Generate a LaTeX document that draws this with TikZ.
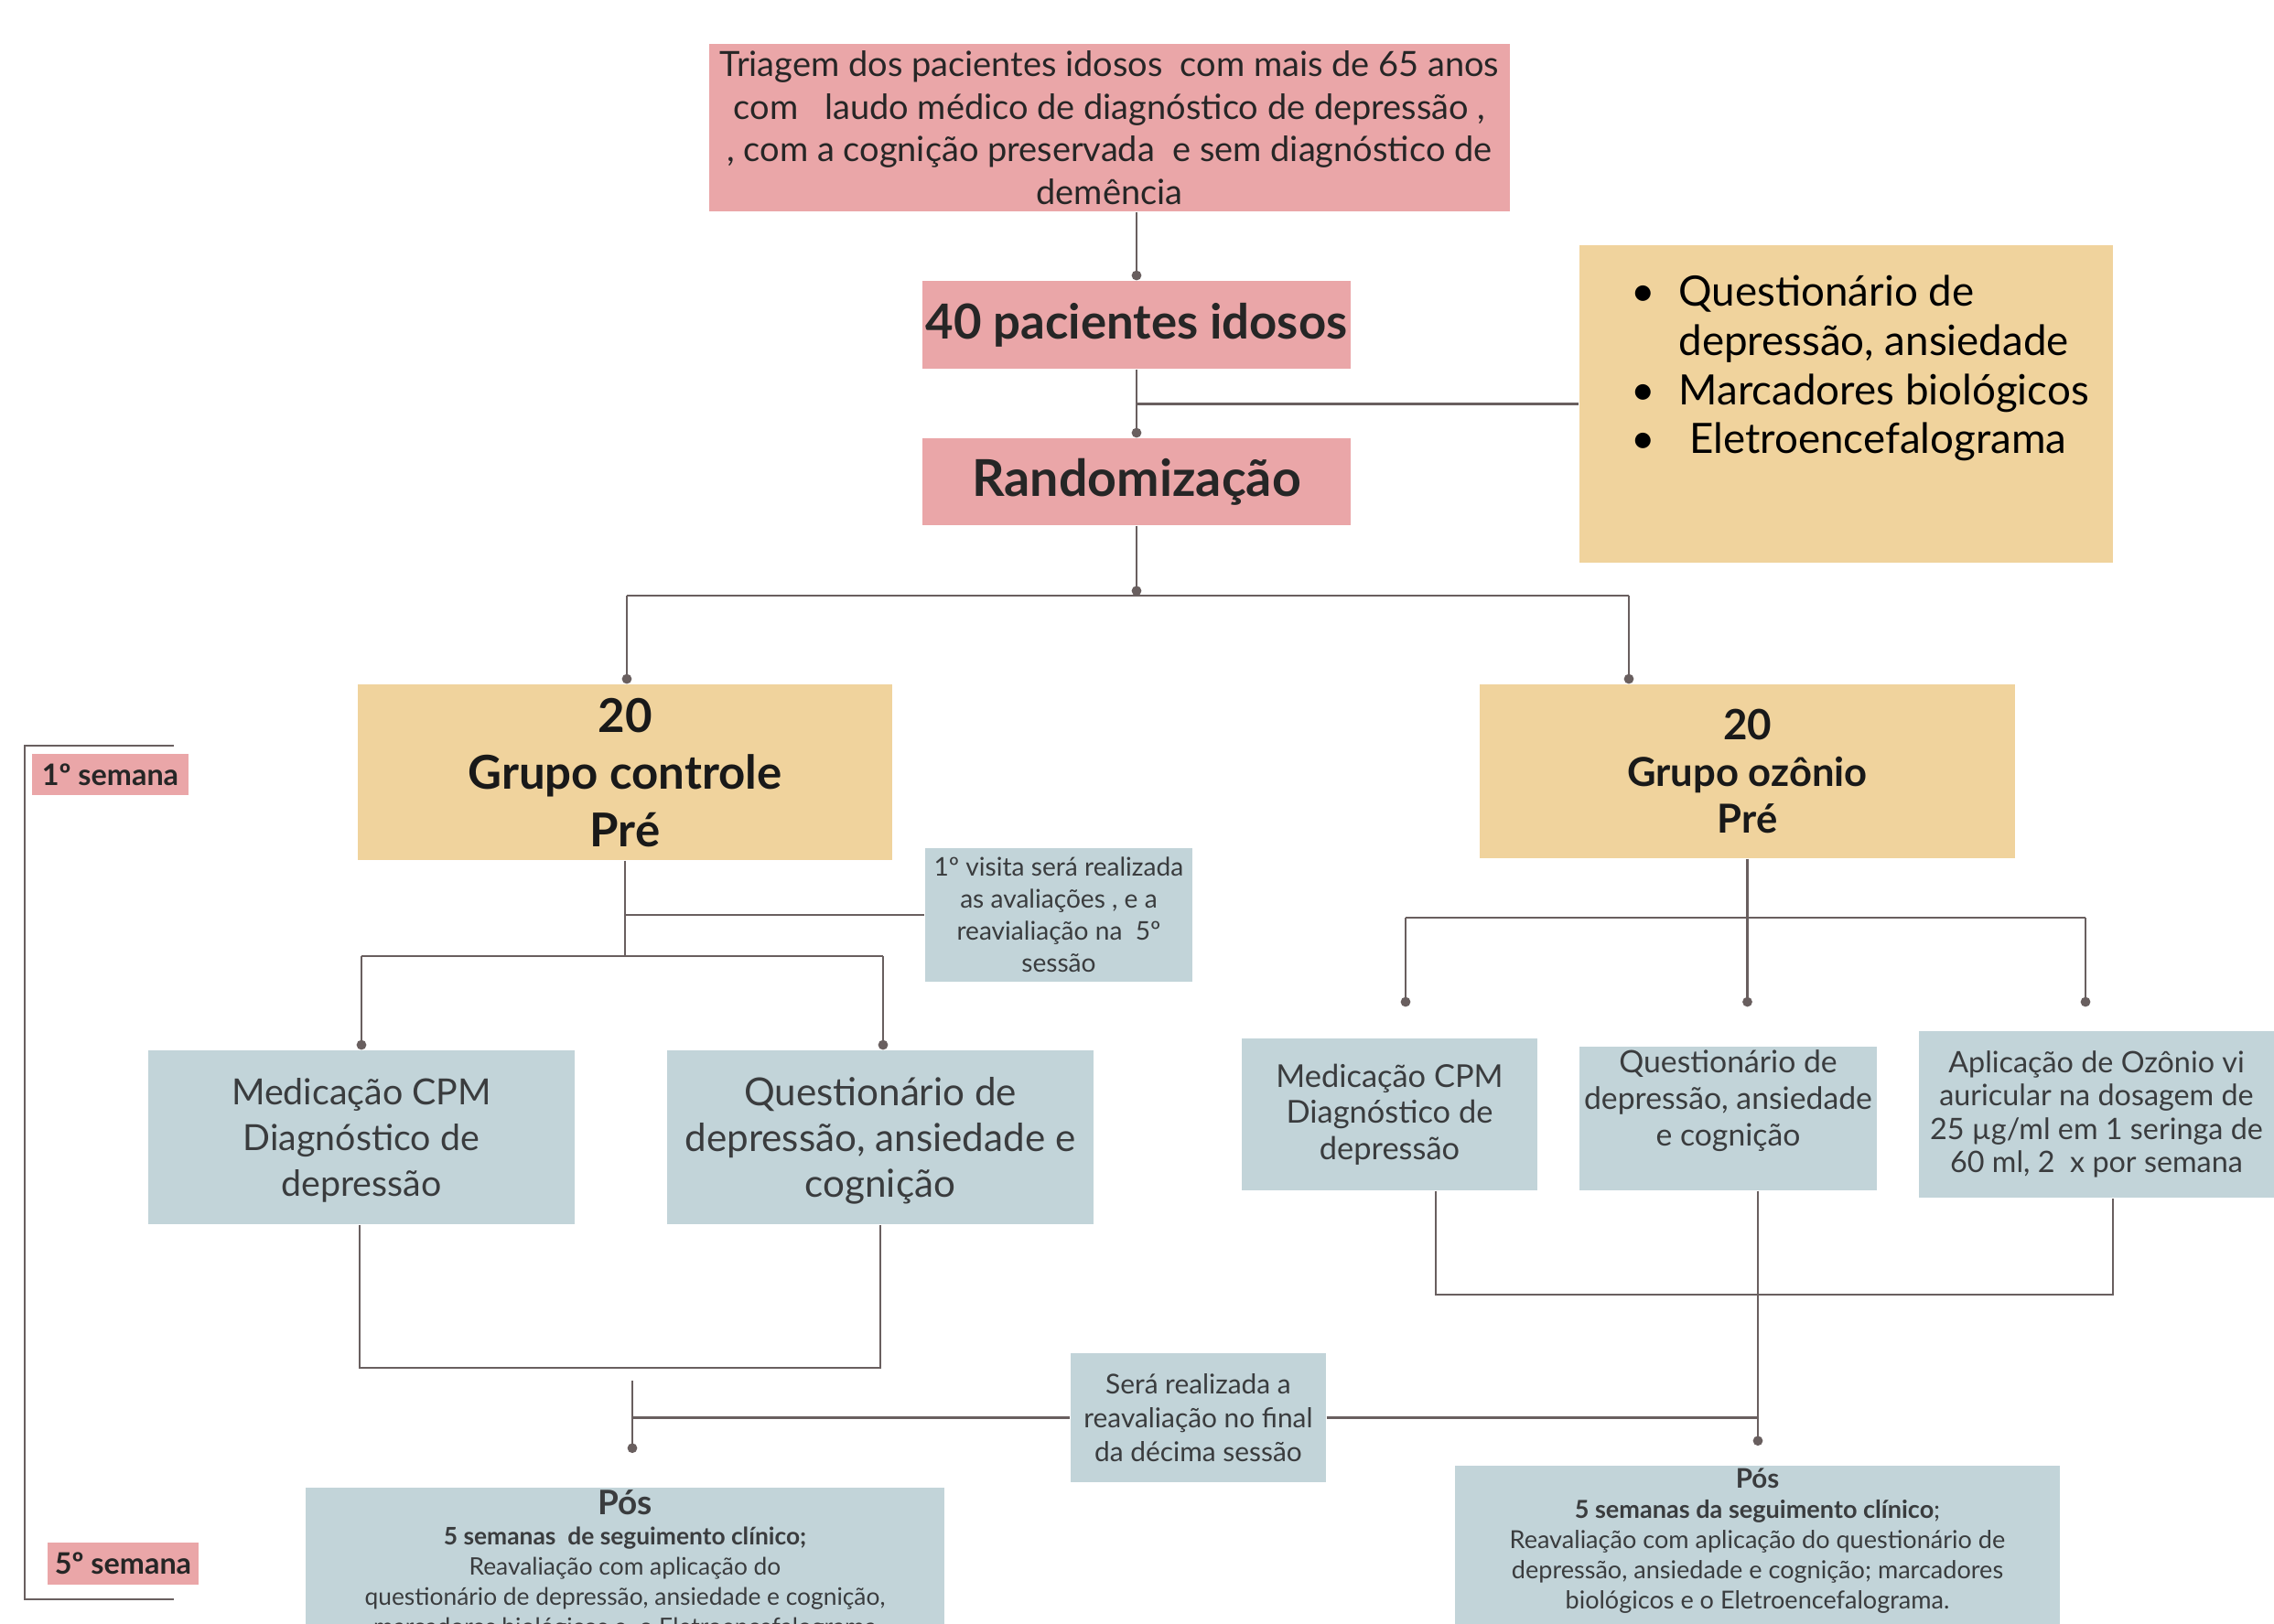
\documentclass[tikz,border=0pt]{standalone}
\usepackage{fontspec}
\setmainfont{Lato}
\usetikzlibrary{arrows.meta}
\definecolor{rosa}{RGB}{234,166,168}
\definecolor{areia}{RGB}{240,211,157}
\definecolor{cinzaazul}{RGB}{194,212,217}
\definecolor{linha}{RGB}{105,95,95}
\definecolor{texto}{RGB}{58,60,62}
\begin{document}
\begin{tikzpicture}[
  pinkbox/.style={fill=rosa, inner sep=0pt, align=center, text=black!85},
  yellowbox/.style={fill=areia, inner sep=0pt, align=center, text=black!90},
  bluebox/.style={fill=cinzaazul, inner sep=0pt, align=center, text=texto},
  line/.style={draw=linha, line width=0.8pt},
  dotline/.style={line, -{Circle[length=3pt]}},
]
\clip (0,0) rectangle (24.85,-17.74);

% triagem e randomizacao
\node[pinkbox, minimum width=8.75cm, minimum height=1.83cm, text depth=-1.3mm, font=\fontsize{10.8}{13.2}\selectfont] (triagem) at (12.125,-1.395)
  {Triagem dos pacientes idosos\ \ com mais de 65 anos\\com \ \ laudo médico de diagnóstico de depressão ,\\, com a cognição preservada\ \ e sem diagnóstico de\\demência};
\node[pinkbox, minimum width=4.68cm, minimum height=0.96cm, font=\bfseries\fontsize{15}{17}\selectfont] (pac) at (12.42,-3.55) {40 pacientes idosos};
\node[pinkbox, minimum width=4.68cm, minimum height=0.95cm, font=\bfseries\fontsize{15.8}{17}\selectfont] (rand) at (12.42,-5.265) {Randomização};
\node[yellowbox, minimum width=5.83cm, minimum height=3.47cm] (aval) at (20.175,-4.415) {};
\node[anchor=north west, align=left, inner sep=0pt, font=\fontsize{13}{15.3}\selectfont] (lista) at ([xshift=5.6mm, yshift=-2.9mm]aval.north west)
  {\begin{tabular}{@{}l@{\hspace{2.6mm}}l@{}}
   \textbullet & Questionário de\\
               & depressão, ansiedade\\
   \textbullet & Marcadores biológicos\\
   \textbullet & \ Eletroencefalograma
   \end{tabular}};

% grupos
\node[yellowbox, minimum width=5.84cm, minimum height=1.92cm, text depth=-1.6mm, font=\bfseries\fontsize{14.5}{17.8}\selectfont] (ctrl) at (6.83,-8.44) {20\\Grupo controle\\Pré};
\node[yellowbox, minimum width=5.85cm, minimum height=1.90cm, font=\bfseries\fontsize{12.4}{14.5}\selectfont] (ozo) at (19.095,-8.43) {{\fontsize{13}{14.5}\selectfont 20}\\Grupo ozônio\\Pré};
\node[bluebox, minimum width=2.92cm, minimum height=1.46cm, font=\fontsize{8}{10}\selectfont] (visita) at (11.57,-10.0)
  {1º visita será realizada\\as avaliações , e a\\reavialiação na\ \ 5º\\sessão};

\node[bluebox, minimum width=4.66cm, minimum height=1.90cm, text depth=-1.1mm, font=\fontsize{11.2}{14.2}\selectfont] (medC) at (3.95,-12.43) {Medicação CPM\\Diagnóstico de\\depressão};
\node[bluebox, minimum width=4.66cm, minimum height=1.90cm, text depth=-1.1mm, font=\fontsize{12}{14.2}\selectfont] (questC) at (9.62,-12.43) {Questionário de\\depressão, ansiedade e\\cognição};
\node[bluebox, minimum width=3.23cm, minimum height=1.66cm, font=\fontsize{9.8}{11.3}\selectfont] (medO) at (15.185,-12.18) {Medicação CPM\\Diagnóstico de\\depressão};
\node[bluebox, minimum width=3.25cm, minimum height=1.57cm, text depth=4.5mm, font=\fontsize{9.6}{11.3}\selectfont] (questO) at (18.885,-12.225) {Questionário de\\depressão, ansiedade\\e cognição};
\node[bluebox, minimum width=3.88cm, minimum height=1.82cm, font=\fontsize{9.2}{10.4}\selectfont] (aplicO) at (22.91,-12.18)
  {Aplicação de Ozônio vi\\auricular na dosagem de\\25 µg/ml em 1 seringa de\\60 ml, 2\ \ x por semana};

\node[bluebox, minimum width=2.79cm, minimum height=1.41cm, font=\fontsize{8.5}{10.6}\selectfont] (decima) at (13.095,-15.495) {Será realizada a\\reavaliação no final\\da décima sessão};

\node[bluebox, anchor=north, minimum width=6.98cm, inner ysep=0.3mm, font=\fontsize{7.5}{9.4}\selectfont] (posL) at (6.83,-16.25)
  {{\bfseries\fontsize{10.5}{9.4}\selectfont Pós}\\\textbf{5 semanas\ \ de seguimento clínico;}\\Reavaliação com aplicação do\\questionário de depressão, ansiedade e cognição,\\marcadores biológicos e\ \ o Eletroencefalograma};
\node[bluebox, anchor=north, minimum width=6.61cm, inner ysep=0.3mm, text depth=3mm, font=\fontsize{7.7}{9.4}\selectfont] (posR) at (19.205,-16.01)
  {{\bfseries\fontsize{8.4}{9.4}\selectfont Pós}\\\textbf{5 semanas da seguimento clínico};\\Reavaliação com aplicação do questionário de\\depressão, ansiedade e cognição; marcadores\\biológicos e o Eletroencefalograma.};

% semanas
\node[pinkbox, minimum width=1.71cm, minimum height=0.45cm, font=\bfseries\fontsize{9.2}{10}\selectfont] (sem1) at (1.205,-8.465) {1º semana};
\node[pinkbox, minimum width=1.65cm, minimum height=0.46cm, font=\bfseries\fontsize{9.2}{10}\selectfont] (sem5) at (1.345,-17.09) {5º semana};
\draw[line] (1.90,-8.15) -- (0.27,-8.15) -- (0.27,-17.48) -- (1.90,-17.48);

% ligacoes do topo
\draw[dotline] (pac.north |- triagem.south) -- (pac.north);
\draw[dotline] (pac.south) -- (rand.north);
\draw[line] (pac.south |- aval.west) -- (aval.west);
\coordinate (topL) at (6.85,-6.51);
\coordinate (topR) at (17.80,-6.51);
\draw[dotline] (rand.south) -- (rand.south |- topL);
\draw[line] (topL) -- (topR);
\draw[dotline] (topL) -- (topL |- ctrl.north);
\draw[dotline] (topR) -- (topR |- ozo.north);

% grupo controle
\coordinate (cL) at (3.95,-10.45);
\coordinate (cR) at (9.65,-10.45);
\draw[line] (ctrl.south) -- (ctrl.south |- cL);
\draw[line] (cL) -- (cR);
\draw[dotline] (cL) -- (cL |- medC.north);
\draw[dotline] (cR) -- (cR |- questC.north);
\draw[line] (ctrl.south |- visita.west) -- (visita.west);

% grupo ozonio
\coordinate (oL) at (15.36,-10.03);
\coordinate (oR) at (22.79,-10.03);
\draw[line] (ozo.south) -- (ozo.south |- oL);
\draw[line] (oL) -- (oR);
\draw[dotline, shorten >=3.4mm] (oL) -- (oL |- medO.north);
\draw[dotline, shorten >=4.3mm] (ozo.south |- oL) -- (ozo.south |- questO.north);
\draw[dotline, shorten >=2.6mm] (oR) -- (oR |- aplicO.north);

% reavaliacao
\coordinate (bA) at (15.69,-14.15);
\coordinate (bB) at (19.21,-14.15);
\coordinate (bC) at (23.09,-14.15);
\draw[line] (bA |- medO.south) -- (bA) -- (bC) -- (bC |- aplicO.south);
\draw[line] (bB |- questO.south) -- (bB);
\draw[dotline, shorten >=2.1mm] (bB) -- (bB |- posR.north);
\draw[line] (decima.east) -- (bB |- decima.east);

\coordinate (aA) at (3.93,-14.95);
\coordinate (aB) at (9.62,-14.95);
\coordinate (aM) at (6.91,-15.09);
\draw[line] (aA |- medC.south) -- (aA) -- (aB) -- (aB |- questC.south);
\draw[dotline, shorten >=3.7mm] (aM) -- (aM |- posL.north);
\draw[line] (aM |- decima.west) -- (decima.west);
\end{tikzpicture}
\end{document}
